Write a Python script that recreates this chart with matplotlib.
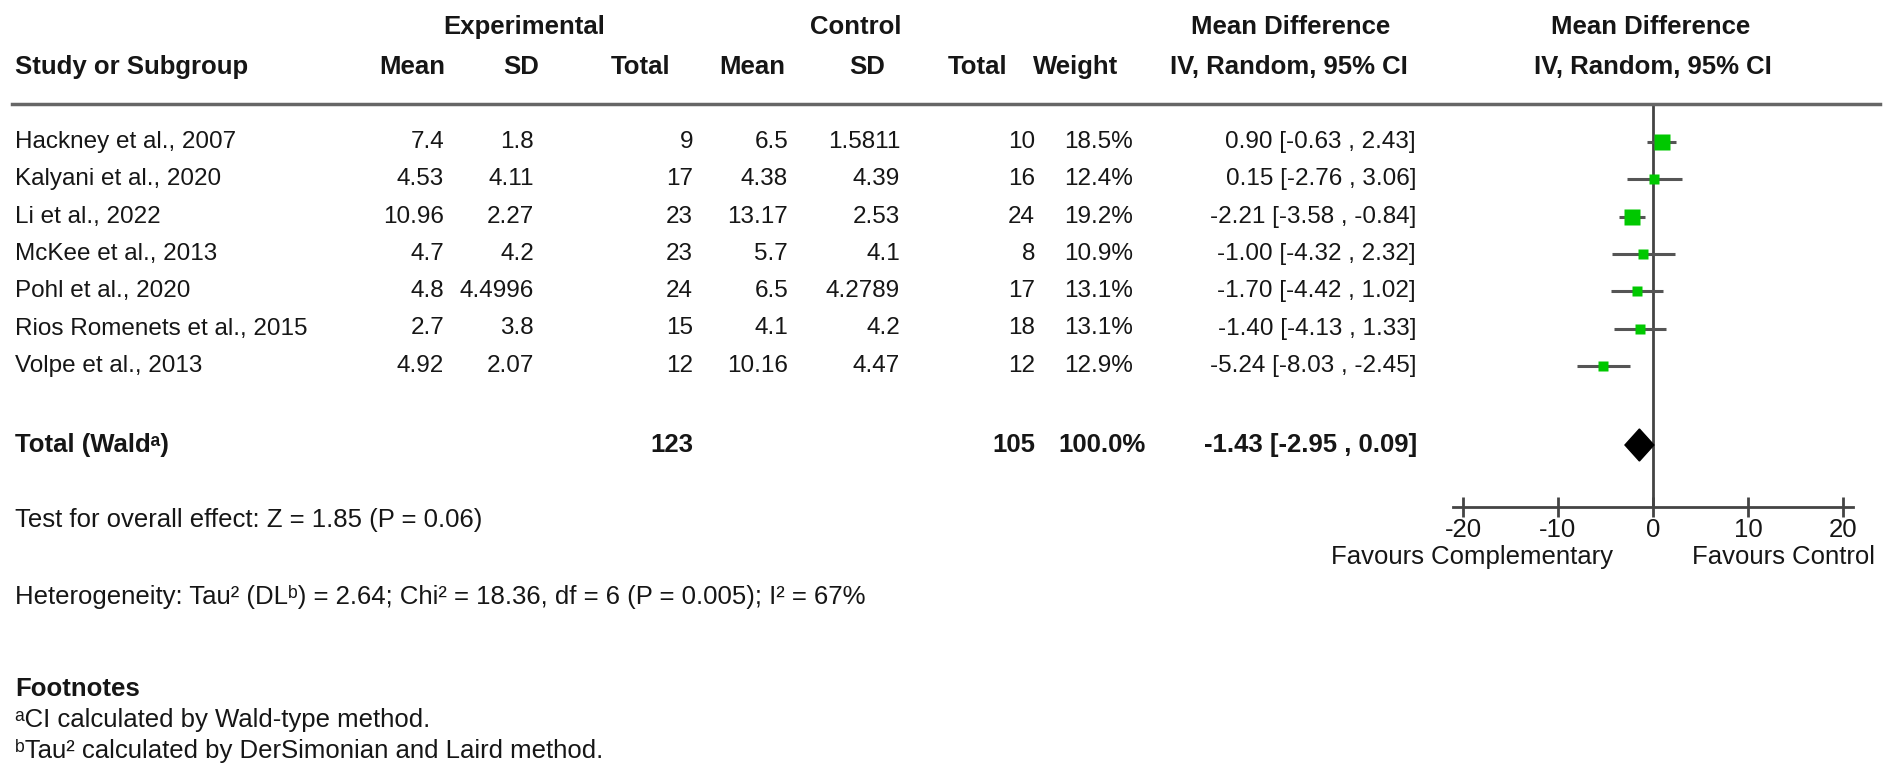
import matplotlib
matplotlib.use("Agg")
import matplotlib.pyplot as plt
from matplotlib.lines import Line2D

plt.rcParams['font.family'] = ['Liberation Sans', 'DejaVu Sans']
plt.rcParams['axes.unicode_minus'] = False

# data
studies = ["Hackney et al., 2007", "Kalyani et al., 2020", "Li et al., 2022",
           "McKee et al., 2013", "Pohl et al., 2020", "Rios Romenets et al., 2015",
           "Volpe et al., 2013"]
exp_mean = ["7.4", "4.53", "10.96", "4.7", "4.8", "2.7", "4.92"]
exp_sd = ["1.8", "4.11", "2.27", "4.2", "4.4996", "3.8", "2.07"]
exp_n = [9, 17, 23, 23, 24, 15, 12]
ctl_mean = ["6.5", "4.38", "13.17", "5.7", "6.5", "4.1", "10.16"]
ctl_sd = ["1.5811", "4.39", "2.53", "4.1", "4.2789", "4.2", "4.47"]
ctl_n = [10, 16, 24, 8, 17, 18, 12]
weight = [18.5, 12.4, 19.2, 10.9, 13.1, 13.1, 12.9]
md = [0.90, 0.15, -2.21, -1.00, -1.70, -1.40, -5.24]
ci_lo = [-0.63, -2.76, -3.58, -4.32, -4.42, -4.13, -8.03]
ci_hi = [2.43, 3.06, -0.84, 2.32, 1.02, 1.33, -2.45]
total_md, total_lo, total_hi = -1.43, -2.95, 0.09
xticks = [-20, -10, 0, 10, 20]

W, H = 1902, 769
fig = plt.figure(figsize=(W / 100, H / 100), dpi=100)
FS = 18.5      # headers, notes
FS_ROW = 17.5  # study rows


def fx(px):
    return px / W


def fy(py):
    return 1 - py / H


def txt(x, y, s, ha="left", bold=False, size=FS):
    fig.text(fx(x), fy(y), s, ha=ha, va="center", fontsize=size,
             fontweight="bold" if bold else "normal", color="#161616")


# row positions in pixels
row_y = [142 + 37.3 * i for i in range(len(studies))]
total_y = 445

# header
txt(524, 27, "Experimental", "center", True)
txt(856, 27, "Control", "center", True)
txt(1291, 27, "Mean Difference", "center", True)
txt(1651, 27, "Mean Difference", "center", True)
txt(15, 67, "Study or Subgroup", bold=True)
for x, s in [(412, "Mean"), (521, "SD"), (641, "Total"), (752, "Mean"),
             (867, "SD"), (978, "Total"), (1076, "Weight"),
             (1289, "IV, Random, 95% CI"), (1653, "IV, Random, 95% CI")]:
    txt(x, 67, s, "center", True)

fig.add_artist(Line2D([fx(12), fx(1880)], [fy(104), fy(104)],
                      color="#666666", lw=2.5))

# table rows
for i, y in enumerate(row_y):
    txt(15, y, studies[i], size=FS_ROW)
    txt(444, y, exp_mean[i], "right", size=FS_ROW)
    txt(534, y, exp_sd[i], "right", size=FS_ROW)
    txt(693, y, str(exp_n[i]), "right", size=FS_ROW)
    txt(788, y, ctl_mean[i], "right", size=FS_ROW)
    txt(900, y, ctl_sd[i], "right", size=FS_ROW)
    txt(1035, y, str(ctl_n[i]), "right", size=FS_ROW)
    txt(1133, y, f"{weight[i]:.1f}%", "right", size=FS_ROW)
    txt(1416, y, f"{md[i]:.2f} [{ci_lo[i]:.2f} , {ci_hi[i]:.2f}]", "right",
        size=FS_ROW)

txt(15, total_y, "Total (Wald\u1d43)", bold=True)
txt(693, total_y, str(sum(exp_n)), "right", True)
txt(1035, total_y, str(sum(ctl_n)), "right", True)
txt(1146, total_y, "100.0%", "right", True)
txt(1417, total_y, f"{total_md:.2f} [{total_lo:.2f} , {total_hi:.2f}]", "right", True)

txt(15, 520, "Test for overall effect: Z = 1.85 (P = 0.06)")
txt(15, 597, "Heterogeneity: Tau\u00b2 (DL\u1d47) = 2.64; Chi\u00b2 = 18.36, df = 6 (P = 0.005); I\u00b2 = 67%")
txt(15, 689, "Footnotes", bold=True)
txt(15, 720, "\u1d43CI calculated by Wald-type method.")
txt(15, 751, "\u1d47Tau\u00b2 calculated by DerSimonian and Laird method.")

# forest plot axes
ax_l, ax_r, ax_t, ax_b = 1453, 1853, 104, 507
ax = fig.add_axes([fx(ax_l), fy(ax_b), fx(ax_r - ax_l), (ax_b - ax_t) / H])
ax.set_xlim(-21.05, 21.05)
ax.set_ylim(ax_b, ax_t)
ax.patch.set_alpha(0)
for s in ["top", "left", "right"]:
    ax.spines[s].set_visible(False)
ax.spines["bottom"].set_color("#444444")
ax.spines["bottom"].set_linewidth(2)
ax.set_yticks([])
ax.set_xticks(xticks)
ax.tick_params(axis="x", direction="inout", length=14, width=2, color="#444444",
               labelsize=FS, pad=1, labelcolor="#161616")
ax.axvline(0, color="#444444", lw=2, zorder=1)

for i, y in enumerate(row_y):
    ax.plot([ci_lo[i], ci_hi[i]], [y, y], color="#555555", lw=2.2, zorder=2,
            solid_capstyle="butt")
    ax.plot(md[i], y, marker="s", color="#00c800", ms=11 * weight[i] / 18.5,
            mec="none", zorder=3)

dh = 16
ax.fill([total_lo, total_md, total_hi, total_md],
        [total_y, total_y - dh, total_y, total_y + dh], color="black", zorder=4)

txt(1613, 557, "Favours Complementary", "right")
txt(1692, 557, "Favours Control")

fig.savefig("out.png", dpi=100)
